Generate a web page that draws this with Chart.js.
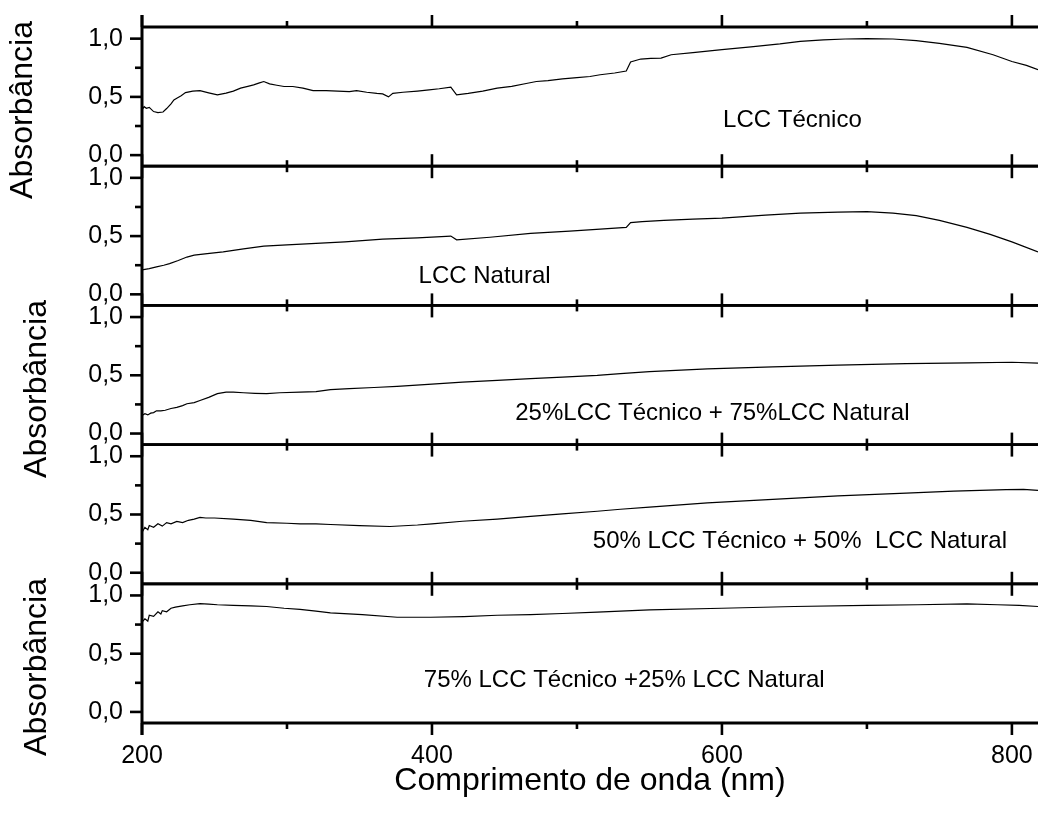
<!DOCTYPE html>
<html>
<head>
<meta charset="utf-8">
<title>Absorbância</title>
<script src="https://cdn.jsdelivr.net/npm/chart.js@4.4.0/dist/chart.umd.min.js"></script>
<style>
  html, body { margin: 0; padding: 0; background: #fff; }
  #wrap { position: relative; width: 1038px; height: 822px; }
</style>
</head>
<body>
<div id="wrap"><canvas id="myChart" width="1038" height="822"></canvas></div>
<script>
// wavelength (nm) and absorbance
var tecnicoNm = [200, 201.5, 203, 205, 208, 211, 214.5, 217, 220, 222, 224, 227, 230, 235, 240, 246, 252, 258, 263, 268, 273, 277, 281, 284, 288, 293, 298, 304, 311, 318, 327, 335, 343, 348, 355, 362, 366, 370, 373, 380, 390, 398, 405, 413, 417, 425, 435, 445, 455, 465, 472, 480, 490, 500, 509, 516, 526, 534, 537, 544, 551, 558, 565, 580, 600, 620, 640, 654, 670, 685, 700, 718, 734, 750, 769, 787, 800, 810, 818];
var tecnicoAbs = [0.388, 0.416, 0.402, 0.41, 0.374, 0.365, 0.37, 0.40, 0.44, 0.474, 0.489, 0.51, 0.537, 0.55, 0.554, 0.535, 0.517, 0.532, 0.55, 0.575, 0.59, 0.603, 0.62, 0.632, 0.612, 0.60, 0.589, 0.589, 0.575, 0.554, 0.554, 0.55, 0.546, 0.554, 0.54, 0.53, 0.526, 0.50, 0.53, 0.54, 0.55, 0.56, 0.57, 0.584, 0.517, 0.53, 0.55, 0.575, 0.59, 0.615, 0.632, 0.64, 0.655, 0.665, 0.675, 0.69, 0.705, 0.722, 0.80, 0.825, 0.83, 0.833, 0.862, 0.88, 0.905, 0.93, 0.955, 0.977, 0.99, 0.997, 1.0, 0.997, 0.983, 0.96, 0.925, 0.862, 0.804, 0.77, 0.733];

var naturalNm = [200, 205, 210, 215, 219, 225, 231, 236, 245, 256, 270, 284, 300, 320, 340, 366, 390, 413, 417, 440, 468, 495, 516, 534, 537, 545, 560, 580, 600, 630, 654, 680, 700, 718, 734, 750, 769, 785, 800, 818];
var naturalAbs = [0.21, 0.221, 0.235, 0.25, 0.264, 0.29, 0.32, 0.336, 0.35, 0.365, 0.39, 0.414, 0.425, 0.437, 0.45, 0.474, 0.485, 0.50, 0.468, 0.49, 0.523, 0.543, 0.56, 0.575, 0.615, 0.625, 0.635, 0.645, 0.655, 0.68, 0.697, 0.705, 0.71, 0.697, 0.675, 0.635, 0.575, 0.515, 0.45, 0.365];

var mix25Nm = [200, 202, 204, 206, 208, 210, 213, 216, 220, 224, 228, 231, 236, 240, 246, 252, 258, 263, 270, 278, 286, 295, 309, 320, 330, 343, 360, 376, 400, 421, 445, 468, 490, 514, 530, 550, 590, 635, 680, 727, 770, 800, 818];
var mix25Abs = [0.155, 0.17, 0.16, 0.175, 0.18, 0.195, 0.195, 0.20, 0.215, 0.225, 0.24, 0.256, 0.265, 0.284, 0.31, 0.342, 0.355, 0.356, 0.35, 0.345, 0.342, 0.35, 0.356, 0.36, 0.377, 0.385, 0.395, 0.405, 0.425, 0.442, 0.457, 0.471, 0.485, 0.50, 0.515, 0.532, 0.555, 0.572, 0.587, 0.60, 0.607, 0.612, 0.605];

var mix50Nm = [200, 202, 204, 205, 208, 211, 214, 217, 220, 224, 228, 232, 236, 240, 244, 250, 263, 275, 286, 300, 309, 320, 330, 350, 371, 390, 400, 421, 445, 468, 490, 514, 530, 550, 590, 635, 680, 727, 760, 796, 808, 818];
var mix50Abs = [0.345, 0.39, 0.37, 0.405, 0.39, 0.42, 0.40, 0.43, 0.42, 0.44, 0.43, 0.45, 0.46, 0.475, 0.47, 0.47, 0.46, 0.45, 0.43, 0.425, 0.42, 0.42, 0.414, 0.405, 0.397, 0.41, 0.42, 0.442, 0.46, 0.483, 0.505, 0.528, 0.545, 0.563, 0.60, 0.629, 0.66, 0.684, 0.70, 0.713, 0.715, 0.707];

var mix75Nm = [200, 202, 204, 205, 208, 211, 213, 214, 217, 220, 223, 228, 233, 240, 246, 252, 263, 275, 286, 298, 309, 320, 330, 352, 376, 399, 422, 445, 468, 490, 514, 550, 600, 650, 700, 735, 769, 790, 805, 818];
var mix75Abs = [0.77, 0.80, 0.78, 0.83, 0.82, 0.86, 0.84, 0.87, 0.86, 0.89, 0.90, 0.91, 0.92, 0.93, 0.925, 0.92, 0.915, 0.91, 0.905, 0.89, 0.88, 0.865, 0.851, 0.836, 0.813, 0.813, 0.819, 0.83, 0.836, 0.845, 0.856, 0.877, 0.89, 0.905, 0.914, 0.92, 0.928, 0.92, 0.915, 0.905];

var panelNames = ['LCC Técnico', 'LCC Natural', '25%LCC Técnico + 75%LCC Natural', '50% LCC Técnico + 50%  LCC Natural', '75% LCC Técnico +25% LCC Natural'];
var xMajorTicks = [200, 400, 600, 800];
var xMinorTicks = [300, 500, 700];
var yMajorTicks = [0, 0.5, 1.0];
var yMinorTicks = [0.25, 0.75];
var xTitle = 'Comprimento de onda (nm)';
var yTitle = 'Absorbância';

var series = [
    [tecnicoNm, tecnicoAbs],
    [naturalNm, naturalAbs],
    [mix25Nm, mix25Abs],
    [mix50Nm, mix50Abs],
    [mix75Nm, mix75Abs]
];
var panelIds = ['y1', 'y2', 'y3', 'y4', 'y5'];

// where each panel caption sits, in (nm, absorbance) of its own panel
var captionAt = [[648.6, 0.295], [436.3, 0.155], [593.4, 0.17], [653.8, 0.267], [532.6, 0.27]];
// rotated y titles: centre x, centre y in pixels
var yTitleAt = [[23, 110], [37, 389], [37, 667]];

var FONT = "'Liberation Sans', Arial, sans-serif";
Chart.defaults.font.family = FONT;
Chart.defaults.color = '#000';

var datasets = series.map(function (s, i) {
    return {
        data: s[0].map(function (x, j) { return { x: x, y: s[1][j] }; }),
        yAxisID: panelIds[i],
        borderColor: '#000',
        borderWidth: 1.2,
        pointRadius: 0,
        fill: false,
        tension: 0
    };
});

var scales = {
    x: {
        type: 'linear',
        position: 'bottom',
        min: 200,
        max: 818,
        afterBuildTicks: function (s) {
            s.ticks = xMajorTicks.map(function (v) { return { value: v }; });
        },
        afterFit: function (s) {
            s.height = 99;
            s.paddingLeft = 0;
            s.paddingRight = 0;
        },
        grid: { display: false, drawTicks: false },
        border: { display: false },
        ticks: {
            padding: 18,
            maxRotation: 0,
            autoSkip: false,
            font: { size: 25 },
            callback: function (v) { return v; }
        },
        title: {
            display: true,
            text: xTitle,
            font: { size: 32 },
            padding: { top: 0, bottom: 22 }
        }
    }
};
panelIds.forEach(function (id, i) {
    scales[id] = {
        type: 'linear',
        position: 'left',
        stack: 'panels',
        stackWeight: 1,
        weight: 5 - i,
        min: -0.095,
        max: 1.10,
        afterBuildTicks: function (s) {
            s.ticks = yMajorTicks.map(function (v) { return { value: v }; });
        },
        afterFit: function (s) {
            s.width = 142;
            s.paddingTop = 0;
            s.paddingBottom = 0;
        },
        grid: { display: false, drawTicks: false },
        border: { display: false },
        ticks: {
            padding: 19,
            autoSkip: false,
            font: { size: 25 },
            callback: function (v) { return v.toFixed(1).replace('.', ','); }
        }
    };
});

// frame lines, tick marks, captions and y titles
var panelFrame = {
    id: 'panelFrame',
    afterDraw: function (chart) {
        var ctx = chart.ctx;
        var xs = chart.scales.x;
        var area = chart.chartArea;
        ctx.save();
        ctx.strokeStyle = '#000';
        ctx.lineCap = 'butt';

        function hline(y) {
            ctx.beginPath();
            ctx.moveTo(area.left, y);
            ctx.lineTo(area.right, y);
            ctx.stroke();
        }
        function xtick(v, y, len) {
            var px = xs.getPixelForValue(v);
            ctx.beginPath();
            ctx.moveTo(px, y);
            ctx.lineTo(px, y + len);
            ctx.stroke();
        }

        panelIds.forEach(function (id, i) {
            var ys = chart.scales[id];
            ctx.lineWidth = 2.8;
            hline(ys.top);
            hline(ys.bottom);

            ctx.lineWidth = 2.6;
            xMajorTicks.forEach(function (v) { xtick(v, ys.top, -12); xtick(v, ys.bottom, 12); });
            xMinorTicks.forEach(function (v) { xtick(v, ys.top, -6); xtick(v, ys.bottom, 6); });

            yMajorTicks.forEach(function (v) {
                var py = ys.getPixelForValue(v);
                ctx.beginPath(); ctx.moveTo(area.left, py); ctx.lineTo(area.left - 12, py); ctx.stroke();
            });
            yMinorTicks.forEach(function (v) {
                var py = ys.getPixelForValue(v);
                ctx.beginPath(); ctx.moveTo(area.left, py); ctx.lineTo(area.left - 7, py); ctx.stroke();
            });

            // caption
            ctx.fillStyle = '#000';
            ctx.font = '24px ' + FONT;
            ctx.textAlign = 'center';
            ctx.textBaseline = 'middle';
            ctx.fillText(panelNames[i], xs.getPixelForValue(captionAt[i][0]), ys.getPixelForValue(captionAt[i][1]));
        });

        // left spine
        ctx.lineWidth = 3;
        ctx.beginPath();
        ctx.moveTo(area.left, area.top - 12);
        ctx.lineTo(area.left, area.bottom + 12);
        ctx.stroke();

        // y titles
        ctx.font = '32px ' + FONT;
        ctx.textAlign = 'center';
        ctx.textBaseline = 'middle';
        yTitleAt.forEach(function (p) {
            ctx.save();
            ctx.translate(p[0], p[1]);
            ctx.rotate(-Math.PI / 2);
            ctx.fillText(yTitle, 0, 0);
            ctx.restore();
        });
        ctx.restore();
    }
};

var myChart = new Chart(document.getElementById('myChart').getContext('2d'), {
    type: 'line',
    data: { datasets: datasets },
    options: {
        responsive: false,
        animation: false,
        layout: { padding: { top: 27, left: 0, right: 0, bottom: 0 } },
        plugins: {
            legend: { display: false },
            tooltip: { enabled: false }
        },
        scales: scales
    },
    plugins: [panelFrame]
});
</script>
</body>
</html>
